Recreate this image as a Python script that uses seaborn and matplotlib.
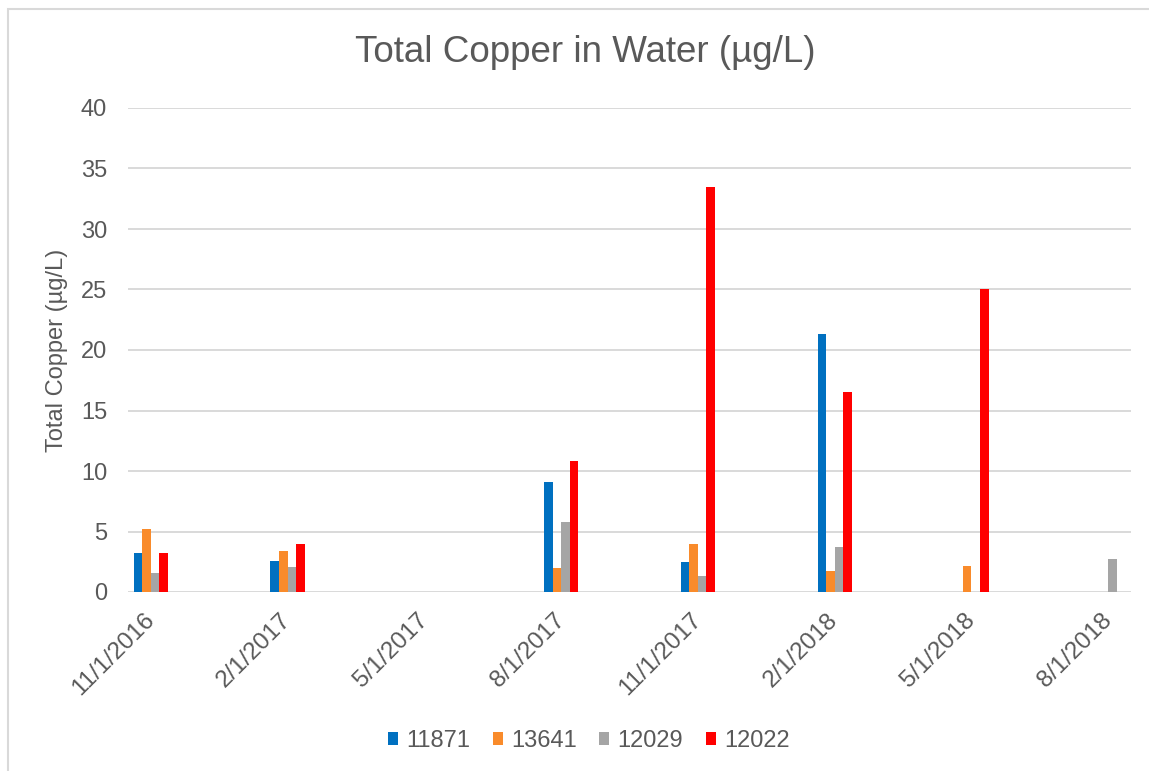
import numpy as np
import pandas as pd
import matplotlib
matplotlib.use("Agg")
import matplotlib.pyplot as plt
import seaborn as sns
from matplotlib.patches import Patch, Rectangle

# ---- data ----
sample_dates = ["11/1/2016", "2/1/2017", "8/1/2017", "11/1/2017", "2/1/2018", "5/1/2018", "8/1/2018"]
s11871 = [3.25, 2.56, 9.08, 2.47, 21.35, np.nan, np.nan]
s13641 = [5.2, 3.39, 1.95, 4.0, 1.74, 2.15, np.nan]
s12029 = [1.53, 2.1, 5.8, 1.36, 3.7, np.nan, 2.7]
s12022 = [3.2, 3.95, 10.8, 33.5, 16.56, 25.0, np.nan]
series_names = ["11871", "13641", "12029", "12022"]
series_colors = ["#0070C0", "#F98B2B", "#A5A5A5", "#FF0000"]
y_ticks = [0, 5, 10, 15, 20, 25, 30, 35, 40]

# month slots of the date axis (Excel base unit: months)
months = pd.date_range("2016-11-01", "2018-08-01", freq="MS")
month_labels = [f"{d.month}/{d.day}/{d.year}" for d in months]

rows = []
for name, vals in zip(series_names, [s11871, s13641, s12029, s12022]):
    for d, v in zip(sample_dates, vals):
        if not np.isnan(v):
            rows.append({"date": d, "station": name, "value": v})
df = pd.DataFrame(rows)

sns.set_theme(style="white")
plt.rcParams["font.family"] = ["Liberation Sans", "DejaVu Sans"]
text_color = "#595959"
grid_color = "#D9D9D9"

fig = plt.figure(figsize=(11.49, 7.71), dpi=100)
ax = fig.add_axes([128 / 1149, 1 - 592 / 771, (1131 - 128) / 1149, (592 - 108) / 771])

sns.barplot(data=df, x="date", y="value", hue="station", order=month_labels,
            hue_order=series_names, palette=series_colors, width=0.75,
            saturation=1, dodge=True, ax=ax, legend=False, errorbar=None,
            linewidth=0)

ax.set_ylim(0, 40)
ax.set_xlim(-0.5, len(month_labels) - 0.5)
ax.set_yticks(y_ticks)
ax.set_yticklabels([str(t) for t in y_ticks])
ax.yaxis.grid(True, color=grid_color, linewidth=1.4)
ax.set_axisbelow(True)
for s in ax.spines.values():
    s.set_visible(False)

tick_pos = list(range(0, len(month_labels), 3))
ax.set_xticks(tick_pos)
ax.set_xticklabels([month_labels[i] for i in tick_pos], rotation=45, ha="right",
                   va="center", rotation_mode="anchor")
ax.tick_params(axis="x", length=0, pad=18, labelsize=17.5, labelcolor=text_color)
ax.tick_params(axis="y", length=0, pad=15, labelsize=17, labelcolor=text_color)
ax.set_xlabel("")
ax.set_ylabel("Total Copper (µg/L)", fontsize=17, color=text_color, labelpad=9)

fig.text(585 / 1149, 1 - 52 / 771, "Total Copper in Water (µg/L)", ha="center",
         va="center", fontsize=26.5, color=text_color)

handles = [Patch(facecolor=c, edgecolor="none") for c in series_colors]
fig.legend(handles, series_names, loc="center", ncol=4, frameon=False,
           bbox_to_anchor=(589 / 1149, 1 - 741 / 771), fontsize=17,
           labelcolor=text_color, handlelength=0.42, handleheight=0.42,
           handletextpad=0.35, columnspacing=0.95)

fig.patches.append(Rectangle((8 / 1149, -0.01), 1.02, 1 - 9 / 771 + 0.01,
                             transform=fig.transFigure, fill=False,
                             edgecolor="#D9D9D9", linewidth=1.5))

fig.savefig("out.png", dpi=100, facecolor="white")
